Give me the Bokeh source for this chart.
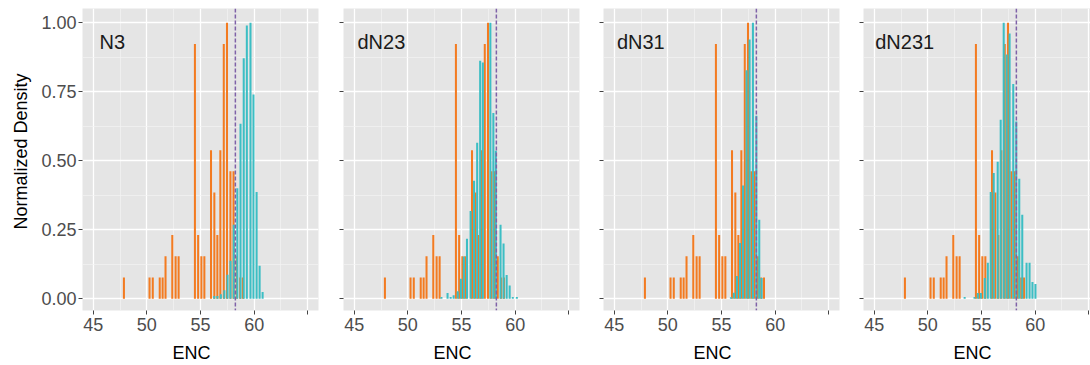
from bokeh.plotting import figure
from bokeh.layouts import row
from bokeh.models import FixedTicker, Span, Label, Range1d, PrintfTickFormatter, CustomJSTickFormatter, Title
from bokeh.embed import file_html
from bokeh.resources import INLINE

# ---------------- data ----------------
panel_names = ["N3", "dN23", "dN31", "dN231"]
x_ticks = [45, 50, 55, 60, 65]
x_minor = [47.5, 52.5, 57.5, 62.5]
y_ticks = [0, 0.25, 0.5, 0.75, 1.0]
y_minor = [0.125, 0.375, 0.625, 0.875]
ref_enc_line = [58.25, 58.25, 58.25, 58.25]

# orange reference distribution (same in every panel): ENC value and count
ref_x = [47.86, 50.25, 50.55, 51.20, 51.47, 51.74, 52.37, 52.68, 52.96, 54.48, 54.78, 55.08,
         55.36, 55.98, 56.29, 56.57, 56.85, 57.17, 57.47, 57.79, 58.08, 58.38, 58.70, 58.96]
ref_count = [1, 1, 1, 1, 1, 2, 3, 2, 2, 12, 3, 2, 2, 7, 5, 3, 7, 12, 13, 6, 6, 2, 1, 1]

# teal distributions (normalized density)
n3_x = [56.28, 56.58, 56.90, 57.22, 57.52, 57.80, 58.10, 58.43, 58.73, 59.03, 59.32, 59.66,
        59.94, 60.23, 60.51, 60.79]
n3_h = [0.010, 0.010, 0.016, 0.030, 0.087, 0.137, 0.268, 0.400, 0.634, 0.872, 0.990, 1.000,
        0.740, 0.387, 0.119, 0.024]

dn23_x = [53.13, 53.70, 53.99, 54.27, 54.65, 54.94, 55.22, 55.51, 55.85, 56.17, 56.46, 56.74,
          56.99, 57.69, 57.97, 58.20, 58.64, 58.92, 59.21, 59.49, 59.78, 60.16]
dn23_h = [0.006, 0.020, 0.006, 0.012, 0.027, 0.072, 0.153, 0.217, 0.318, 0.427, 0.565, 0.863,
          0.856, 1.000, 0.673, 0.536, 0.268, 0.200, 0.086, 0.048, 0.006, 0.006]

dn31_x = [55.88, 56.15, 56.44, 56.73, 57.01, 57.34, 57.62, 57.93, 58.25, 58.52, 58.74]
dn31_h = [0.005, 0.021, 0.082, 0.202, 0.410, 0.828, 0.940, 1.000, 0.663, 0.286, 0.075]

dn231_x = [53.43, 54.35, 54.66, 54.94, 55.31, 55.59, 55.86, 56.14, 56.51, 56.79, 57.07, 57.35,
           57.62, 57.96, 58.24, 58.52, 58.80, 59.20, 59.48, 59.75, 60.03]
dn231_h = [0.006, 0.006, 0.020, 0.020, 0.075, 0.130, 0.387, 0.456, 0.496, 0.649, 1.000, 0.885,
           0.961, 0.778, 0.642, 0.435, 0.304, 0.130, 0.130, 0.060, 0.053]

teal_x = [n3_x, dn23_x, dn31_x, dn231_x]
teal_h = [n3_h, dn23_h, dn31_h, dn231_h]

# ---------------- style ----------------
FONT = "Liberation Sans"
ORANGE = "#F37B21"
TEAL = "#3CBEC4"
DASH = "#7F62A8"
BG = "#E5E5E5"
BAR_W = 0.19
PX_PER_UNIT = 236 / 22.0

ref_max = max(ref_count)
ref_h = [c / ref_max for c in ref_count]

geom = [
    dict(lb=81, fw=236, rb=12, lx=45.58),
    dict(lb=13, fw=236, rb=12, lx=45.30),
    dict(lb=12, fw=236, rb=12, lx=45.25),
    dict(lb=12, fw=228, rb=0, lx=45.09),
]

figs = []
for i, name in enumerate(panel_names):
    g = geom[i]
    xmax = 44 + g["fw"] / PX_PER_UNIT
    p = figure(frame_width=g["fw"], frame_height=302,
               min_border_left=g["lb"], min_border_right=g["rb"],
               min_border_top=8, min_border_bottom=55,
               x_range=Range1d(44, xmax), y_range=Range1d(-0.043, 1.052),
               output_backend="svg", toolbar_location=None,
               background_fill_color=BG, border_fill_color="white",
               outline_line_color=None)

    xt = FixedTicker(ticks=x_ticks, minor_ticks=x_minor)
    yt = FixedTicker(ticks=y_ticks, minor_ticks=y_minor)
    p.xaxis.ticker = xt
    p.yaxis.ticker = yt
    p.xgrid.ticker = xt
    p.ygrid.ticker = yt

    for grid in (p.xgrid, p.ygrid):
        grid.grid_line_color = "white"
        grid.grid_line_width = 1.3
        grid.minor_grid_line_color = "#F4F4F4"
        grid.minor_grid_line_width = 0.7

    for ax in (p.xaxis, p.yaxis):
        ax.axis_line_color = None
        ax.major_tick_line_color = "#444444"
        ax.major_tick_in = 0
        ax.major_tick_out = 4
        ax.minor_tick_line_color = None
        ax.major_label_text_font = FONT
        ax.major_label_text_font_size = "18px"
        ax.major_label_text_color = "#4D4D4D"

    p.xaxis.major_label_overrides = {65: ""}
    p.xaxis.major_label_standoff = 3
    p.yaxis.major_label_standoff = 2
    if i == 0:
        p.yaxis.formatter = PrintfTickFormatter(format="%.2f")
    else:
        p.yaxis.formatter = CustomJSTickFormatter(code="return ''")

    p.vbar(x=ref_x, top=ref_h, bottom=0, width=BAR_W, color=ORANGE, line_color=None)
    p.vbar(x=teal_x[i], top=teal_h[i], bottom=0, width=BAR_W, color=TEAL, line_color=None)

    p.add_layout(Span(location=ref_enc_line[i], dimension="height", line_color=DASH,
                      line_width=1.5, line_dash="4 2"))

    p.add_layout(Label(x=g["lx"], y=0.932, text=name, text_font=FONT, text_font_size="20px",
                       text_color="#1A1A1A", text_align="left", text_baseline="middle"))

    p.add_layout(Title(text="ENC", align="left", offset=90, text_font=FONT,
                       text_font_size="18px", text_font_style="normal",
                       text_color="#000000", standoff=14), "below")
    if i == 0:
        p.add_layout(Title(text="Normalized Density", align="left", offset=81, text_font=FONT,
                           text_font_size="18px", text_font_style="normal",
                           text_color="#000000", standoff=16), "left")
    figs.append(p)

layout = row(*figs)
open("out.html", "w").write(file_html(layout, INLINE))
